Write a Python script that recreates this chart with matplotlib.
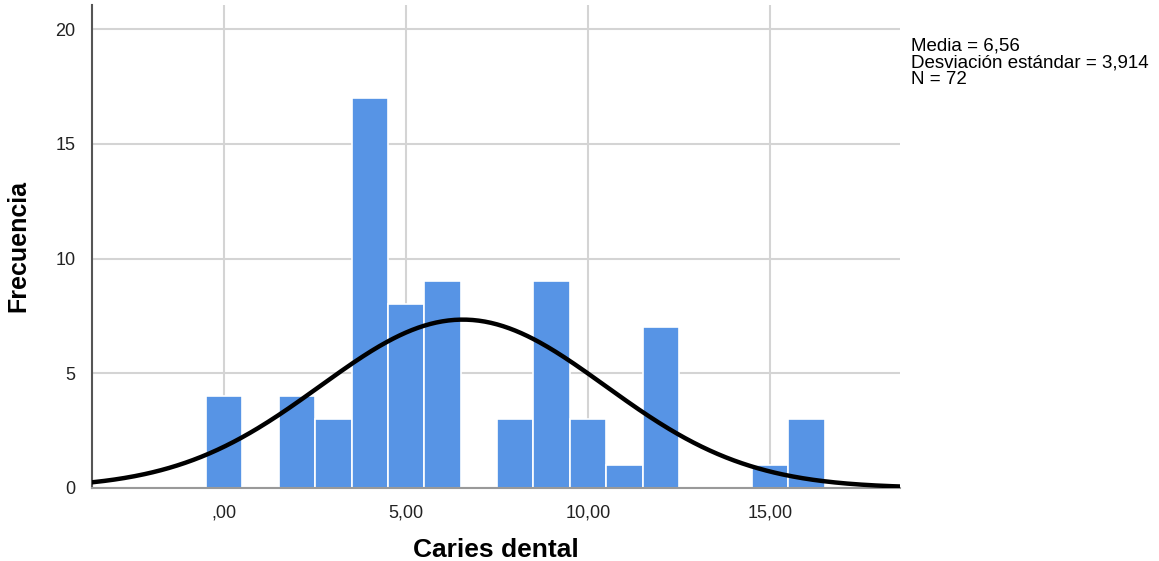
import numpy as np
import matplotlib
matplotlib.use("Agg")
import matplotlib.pyplot as plt

# Caries dental: value -> frequency
values = [0, 2, 3, 4, 5, 6, 8, 9, 10, 11, 12, 15, 16]
counts = [4, 4, 3, 17, 8, 9, 3, 9, 3, 1, 7, 1, 3]
x_ticks = [0, 5, 10, 15]
x_tick_labels = [",00", "5,00", "10,00", "15,00"]
y_ticks = [0, 5, 10, 15, 20]

mean = 6.56
sd = 3.914
n = 72

plt.rcParams['font.family'] = ['Liberation Sans', 'DejaVu Sans']

fig = plt.figure(figsize=(11.59, 5.61), dpi=100)
ax = fig.add_axes([92 / 1159, 73 / 561, 808 / 1159, 483 / 561])

ax.bar(values, counts, width=1.0, color="#5794e5", edgecolor="white",
       linewidth=1.2, zorder=2)

xs = np.linspace(-3.63, 18.57, 400)
ys = n * 1.0 / (sd * np.sqrt(2 * np.pi)) * np.exp(-0.5 * ((xs - mean) / sd) ** 2)
ax.plot(xs, ys, color="black", linewidth=3.2, zorder=3)

ax.set_xlim(-3.63, 18.57)
ax.set_ylim(0, 21.05)
ax.set_xticks(x_ticks)
ax.set_xticklabels(x_tick_labels)
ax.set_yticks(y_ticks)
ax.tick_params(length=0, labelsize=13, colors="#222222", pad=12)
ax.tick_params(axis="y", pad=12)

ax.grid(True, color="#d4d4d4", linewidth=1.5, zorder=0)
ax.set_axisbelow(True)
for side in ["top", "right"]:
    ax.spines[side].set_visible(False)
ax.spines["left"].set_color("#555555")
ax.spines["left"].set_linewidth(1.5)
ax.spines["bottom"].set_color("#999999")
ax.spines["bottom"].set_linewidth(1.5)

ax.set_xlabel("Caries dental", fontsize=19, fontweight="bold", labelpad=12)
ax.set_ylabel("Frecuencia", fontsize=18, fontweight="bold", labelpad=18)

fig.text(911 / 1159, 1 - 63 / 561,
         "Media = 6,56\nDesviación estándar = 3,914\nN = 72",
         fontsize=13.5, va="center", ha="left", linespacing=1.0)

fig.savefig("out.png", dpi=100)
